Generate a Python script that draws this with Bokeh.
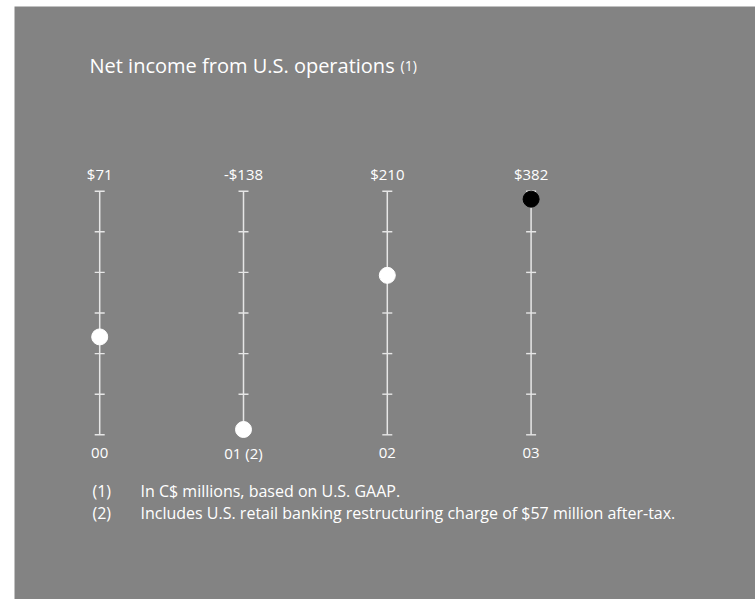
import numpy as np
from bokeh.plotting import figure
from bokeh.models import Range1d, Label
from bokeh.core.properties import value
from bokeh.embed import file_html
from bokeh.resources import INLINE

# ---- data ----
years = ["00", "01 (2)", "02", "03"]
net_income = [71, -138, 210, 382]
value_labels = ["$71", "-$138", "$210", "$382"]
title_text = "Net income from U.S. operations"
title_note = "(1)"
footnote_marks = ["(1)", "(2)"]
footnote_texts = [
    "In C$ millions, based on U.S. GAAP.",
    "Includes U.S. retail banking restructuring charge of $57 million after-tax.",
]
scale_min, scale_max = -150, 400

# ---- layout helpers (pixel <-> data) ----
W, H = 755, 599
LEFT, TOP = 14, 6
X0_PX, DX_PX = 99.2, 143.8          # first column centre, spacing
Y_TOP_PX, Y_BOT_PX = 190.7, 434.3   # pixel of scale_max / scale_min
sy = (Y_BOT_PX - Y_TOP_PX) / (scale_max - scale_min)

def px_to_x(px):
    return (px - X0_PX) / DX_PX

def px_to_y(py):
    return scale_max - (py - Y_TOP_PX) / sy

FONT = "Open Sans"
GRAY = "#838383"
LINE = "#e6e6e6"

p = figure(width=W, height=H, output_backend="svg", toolbar_location=None,
           x_range=Range1d(px_to_x(LEFT), px_to_x(W)),
           y_range=Range1d(px_to_y(H), px_to_y(TOP)),
           min_border_left=LEFT, min_border_top=TOP,
           min_border_right=0, min_border_bottom=0,
           background_fill_color=GRAY, border_fill_color="white")
p.axis.visible = False
p.grid.visible = False
p.outline_line_color = None

xs = list(range(len(years)))

# vertical scale lines
p.segment(x0=xs, y0=[scale_min] * len(xs), x1=xs, y1=[scale_max] * len(xs),
          line_color=LINE, line_width=1.5)

# tick marks
ticks = np.linspace(scale_min, scale_max, 7)
tx = [x for x in xs for _ in ticks]
ty = [t for _ in xs for t in ticks]
p.scatter(tx, ty, marker="dash", size=10, line_color=LINE, line_width=1.4)

# dots
colors = ["white"] * (len(xs) - 1) + ["black"]
p.scatter(xs, net_income, size=16, fill_color=colors, line_color=colors)

# value labels above
p.text(x=xs, y=[scale_max] * len(xs), text=value_labels, y_offset=-17,
       text_align="center", text_baseline="alphabetic",
       text_color="white", text_font=value(FONT), text_font_size="15px")

# category labels below
p.text(x=xs, y=[scale_min] * len(xs), text=years, y_offset=18,
       text_align="center", text_baseline="alphabetic",
       text_color="white", text_font=value(FONT), text_font_size="15px")

# title
p.add_layout(Label(x=px_to_x(89), y=px_to_y(65), text=title_text,
                   text_color="white", text_font=FONT, text_font_size="20px",
                   text_baseline="alphabetic"))
p.add_layout(Label(x=px_to_x(400), y=px_to_y(65), text=title_note,
                   text_color="white", text_font=FONT, text_font_size="14px",
                   text_baseline="alphabetic"))

# footnotes
for i, (m, t) in enumerate(zip(footnote_marks, footnote_texts)):
    yb = px_to_y(490 + 22 * i)
    p.add_layout(Label(x=px_to_x(92), y=yb, text=m, text_color="white",
                       text_font=FONT, text_font_size="16px",
                       text_baseline="alphabetic"))
    p.add_layout(Label(x=px_to_x(140), y=yb, text=t, text_color="white",
                       text_font=FONT, text_font_size="16px",
                       text_baseline="alphabetic"))

open("out.html", "w").write(file_html(p, INLINE))
